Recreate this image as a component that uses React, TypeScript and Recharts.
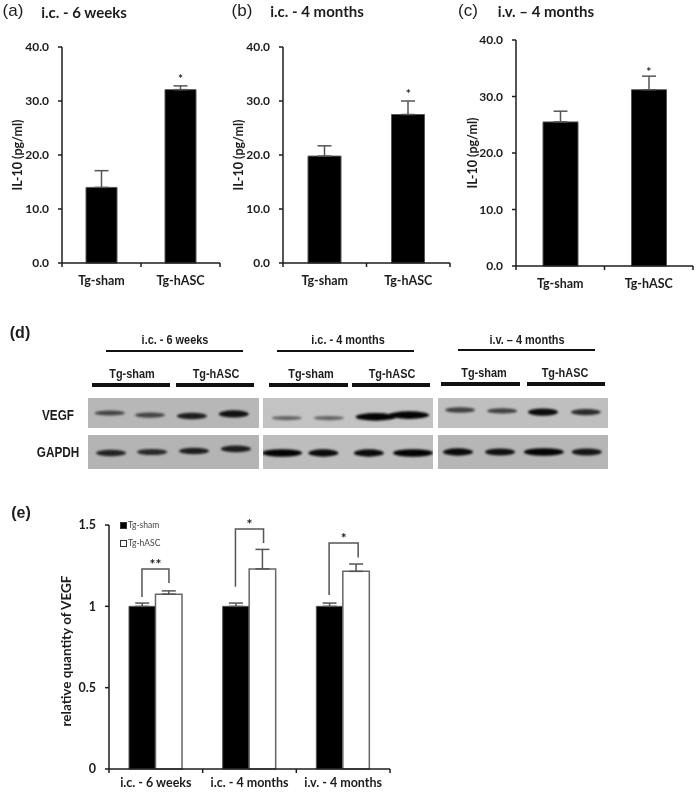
import { BarChart, Bar, XAxis, YAxis, ErrorBar, ReferenceDot, LineChart, Line, Legend, ScatterChart, Scatter } from 'recharts';

const FONT = 'Lato, "Open Sans", sans-serif';
const NARROW = '"Liberation Sans", sans-serif';
const INK = '#1c1c1c';

// IL-10 panels
const groups = ['Tg-sham', 'Tg-hASC'];
const il10Six = [14.0, 32.1];
const il10SixErr = [3.1, 0.7];
const il10Four = [19.8, 27.5];
const il10FourErr = [1.9, 2.5];
const il10Iv = [25.5, 31.2];
const il10IvErr = [1.9, 2.4];
const il10Ticks = [0, 10, 20, 30, 40];

// VEGF quantity panel
const timepoints = ['i.c. - 6 weeks', 'i.c. - 4 months', 'i.v. - 4 months'];
const vegfSham = [1, 1, 1];
const vegfShamErr = [0.02, 0.02, 0.02];
const vegfAsc = [1.075, 1.23, 1.215];
const vegfAscErr = [0.02, 0.12, 0.045];
const vegfTicks = [0, 0.5, 1, 1.5];
const bracketPoints = [
  [[0.352, 1.057], [0.352, 1.23], [0.64, 1.23], [0.64, 1.143]],
  [[1.35, 1.12], [1.35, 1.475], [1.65, 1.475], [1.65, 1.39]],
  [[2.35, 1.07], [2.35, 1.39], [2.66, 1.39], [2.66, 1.3]],
];
const bracketStars = ['**', '*', '*'];

// western blot: per gel, lane position, band strength, migration (share of strip height)
const vegfLanes = [[0.51, 1.45, 2.43, 3.41], [0.56, 1.55, 2.65, 3.44], [0.52, 1.51, 2.47, 3.48]];
const vegfStrength = [[0.5, 0.5, 0.8, 0.9], [0.3, 0.3, 1, 1], [0.55, 0.55, 0.95, 0.7]];
const vegfMigration = [[0.5, 0.57, 0.6, 0.53], [0.67, 0.67, 0.63, 0.57], [0.4, 0.43, 0.47, 0.47]];
const gapdhLanes = [[0.54, 1.5, 2.48, 3.46], [0.45, 1.42, 2.49, 3.53], [0.47, 1.46, 2.49, 3.5]];
const gapdhStrength = [[0.75, 0.7, 0.8, 0.8], [1, 0.95, 0.95, 1], [0.95, 0.9, 1, 0.85]];
const gapdhMigration = [[0.53, 0.5, 0.47, 0.41], [0.53, 0.53, 0.53, 0.53], [0.5, 0.5, 0.5, 0.5]];

const AXIS_W = 60;
const TOP = 12;
const BOTTOM = 30;

const label = (x: number, y: number, text: string, style: any = {}) => (
  <div
    style={{
      position: 'absolute',
      left: x,
      top: y,
      transform: 'translate(-50%, -50%)',
      whiteSpace: 'nowrap',
      fontFamily: FONT,
      fontWeight: 700,
      color: INK,
      ...style,
    }}
  >
    {text}
  </div>
);

const narrow = (size: number) => ({
  fontFamily: NARROW,
  fontSize: size,
  transform: 'translate(-50%, -50%) scaleX(0.84)',
});

const rule = (x1: number, x2: number, y: number, h: number) => (
  <div style={{ position: 'absolute', left: x1, top: y - h / 2, width: x2 - x1, height: h, background: '#111' }} />
);

// x axis ticks sit on the category boundaries, not under the labels
const BoundaryTick = (props: any) => {
  const { x, payload, step, index, labelY, axisY } = props;
  return (
    <g>
      {index === 0 && <line x1={x - step / 2} x2={x - step / 2} y1={axisY} y2={axisY + 4} stroke={INK} strokeWidth={1.5} />}
      <line x1={x + step / 2} x2={x + step / 2} y1={axisY} y2={axisY + 4} stroke={INK} strokeWidth={1.5} />
      <text x={x} y={axisY + labelY} textAnchor="middle" fontFamily={FONT} fontWeight={700} fontSize={12.5} fill={INK}>
        {payload.value}
      </text>
    </g>
  );
};

function Il10Panel({ left, top, plotW, plotH, values, errs, barSize, starY, yLabelDx }: any) {
  const data = groups.map((g, i) => ({ name: g, value: values[i], err: [0, errs[i]] }));
  return (
    <div style={{ position: 'absolute', left: left - AXIS_W, top: top - TOP }}>
      <BarChart
        width={plotW + AXIS_W + 6}
        height={plotH + TOP + BOTTOM}
        data={data}
        margin={{ top: TOP, right: 6, bottom: 0, left: 0 }}
        barSize={barSize}
      >
        <XAxis
          dataKey="name"
          height={BOTTOM}
          tickLine={false}
          axisLine={{ stroke: INK, strokeWidth: 1.5 }}
          interval={0}
          tick={<BoundaryTick step={plotW / 2} labelY={22} axisY={plotH + TOP} />}
        />
        <YAxis
          width={AXIS_W}
          domain={[0, 40]}
          ticks={il10Ticks}
          tickFormatter={(v: number) => v.toFixed(1)}
          tickSize={4}
          tickMargin={9}
          axisLine={{ stroke: INK, strokeWidth: 1.5 }}
          tickLine={{ stroke: INK, strokeWidth: 1.5 }}
          tick={{ fontFamily: FONT, fontWeight: 700, fontSize: 12, fill: INK }}
          label={{
            value: 'IL-10 (pg/ml)',
            angle: -90,
            position: 'insideLeft',
            dx: yLabelDx,
            style: { textAnchor: 'middle', fontFamily: FONT, fontWeight: 700, fontSize: 12.5, fill: INK },
          }}
        />
        <Bar dataKey="value" fill="#000" stroke="#555" strokeWidth={1} isAnimationActive={false}>
          <ErrorBar dataKey="err" direction="y" width={7} stroke="#555" strokeWidth={1.5} isAnimationActive={false} />
        </Bar>
        <ReferenceDot
          x={groups[1]}
          y={starY}
          r={0}
          ifOverflow="visible"
          label={{ value: '*', position: 'center', fontFamily: FONT, fontWeight: 700, fontSize: 12, fill: INK }}
        />
      </BarChart>
    </div>
  );
}

const BandShape = (props: any) => {
  const { cx, cy, payload } = props;
  const s = payload.strength;
  return (
    <ellipse
      cx={cx}
      cy={cy}
      rx={15 + 5 * (s > 0.97 ? 1 : 0)}
      ry={1.4 + 2.4 * s}
      fill="#000"
      fillOpacity={0.28 + 0.7 * s}
      style={{ filter: 'blur(1.1px)' }}
    />
  );
};

function Strip({ left, top, width, height, lanes, strength, migration, bg }: any) {
  const data = lanes.map((lane: number, i: number) => ({ lane, migration: migration[i], strength: strength[i] }));
  return (
    <div style={{ position: 'absolute', left, top, background: bg, width, height, overflow: 'hidden' }}>
      <ScatterChart width={width} height={height} margin={{ top: 0, right: 0, bottom: 0, left: 0 }}>
        <XAxis type="number" dataKey="lane" domain={[0, 4]} hide />
        <YAxis type="number" dataKey="migration" domain={[0, 1]} reversed hide width={0} />
        <Scatter data={data} shape={<BandShape />} isAnimationActive={false} />
      </ScatterChart>
    </div>
  );
}

const LegendBox = ({ payload }: any) => (
  <div>
    {(payload || []).map((p: any, i: number) => (
      <div key={p.value} style={{ display: 'flex', alignItems: 'center', height: 18, fontFamily: FONT, fontSize: 8.5, color: '#444' }}>
        <span
          style={{
            display: 'inline-block',
            width: 5,
            height: 5,
            marginRight: 1,
            background: i === 0 ? '#000' : '#fff',
            border: '1px solid #333',
          }}
        />
        {p.value}
      </div>
    ))}
  </div>
);

function VegfPanel() {
  const left = 109;
  const top = 525;
  const plotW = 281;
  const plotH = 244;
  const data = timepoints.map((t, i) => ({
    name: t,
    sham: vegfSham[i],
    shamErr: [0, vegfShamErr[i]],
    asc: vegfAsc[i],
    ascErr: [0, vegfAscErr[i]],
  }));
  return (
    <div style={{ position: 'absolute', left: left - AXIS_W, top: top - TOP }}>
      <BarChart
        width={plotW + AXIS_W + 6}
        height={plotH + TOP + BOTTOM}
        data={data}
        margin={{ top: TOP, right: 6, bottom: 0, left: 0 }}
        barSize={26.5}
        barGap={0}
      >
        <XAxis
          dataKey="name"
          height={BOTTOM}
          tickLine={false}
          axisLine={{ stroke: INK, strokeWidth: 1.5 }}
          interval={0}
          tick={<BoundaryTick step={plotW / 3} labelY={18} axisY={plotH + TOP} />}
        />
        <YAxis
          width={AXIS_W}
          domain={[0, 1.5]}
          ticks={vegfTicks}
          tickSize={4}
          tickMargin={9}
          axisLine={{ stroke: INK, strokeWidth: 1.5 }}
          tickLine={{ stroke: INK, strokeWidth: 1.5 }}
          tick={{ fontFamily: FONT, fontWeight: 700, fontSize: 12.5, fill: INK }}
          label={{
            value: 'relative quantity of VEGF',
            angle: -90,
            position: 'insideLeft',
            dx: 12,
            dy: 4,
            style: { textAnchor: 'middle', fontFamily: FONT, fontWeight: 700, fontSize: 13.5, fill: INK },
          }}
        />
        <Legend
          layout="vertical"
          align="center"
          verticalAlign="middle"
          itemSorter={null}
          content={<LegendBox />}
          wrapperStyle={{ left: 71, top: 3, width: 60 }}
        />
        <Bar dataKey="sham" name="Tg-sham" fill="#000" stroke="#555" strokeWidth={1} isAnimationActive={false}>
          <ErrorBar dataKey="shamErr" direction="y" width={7} stroke="#555" strokeWidth={1.5} isAnimationActive={false} />
        </Bar>
        <Bar dataKey="asc" name="Tg-hASC" fill="#fff" stroke="#666" strokeWidth={1.5} isAnimationActive={false}>
          <ErrorBar dataKey="ascErr" direction="y" width={7} stroke="#555" strokeWidth={1.5} isAnimationActive={false} />
        </Bar>
      </BarChart>
      {/* significance brackets on a numeric x scale over the same plot area */}
      <div style={{ position: 'absolute', left: 0, top: 0 }}>
        <LineChart
          width={plotW + AXIS_W + 6}
          height={plotH + TOP + BOTTOM}
          margin={{ top: TOP, right: 6, bottom: BOTTOM, left: AXIS_W }}
        >
          <XAxis type="number" dataKey="x" domain={[0, 3]} hide />
          <YAxis type="number" dataKey="y" domain={[0, 1.5]} hide />
          {bracketPoints.map((pts, i) => (
            <Line
              key={i}
              data={pts.map(([x, y]) => ({ x, y }))}
              dataKey="y"
              type="linear"
              stroke="#555"
              strokeWidth={1.5}
              dot={false}
              isAnimationActive={false}
            />
          ))}
          {bracketPoints.map((pts, i) => (
            <ReferenceDot
              key={i}
              x={(pts[1][0] + pts[2][0]) / 2}
              y={pts[1][1] + 0.03}
              r={0}
              ifOverflow="visible"
              label={{ value: bracketStars[i], position: 'center', fontFamily: FONT, fontWeight: 700, fontSize: 14, fill: INK }}
            />
          ))}
        </LineChart>
      </div>
    </div>
  );
}

export default function App() {
  const gels = [
    { left: 88, width: 171, bg: '#b7b7b7', bg2: '#b4b4b4' },
    { left: 263, width: 170, bg: '#c3c3c3', bg2: '#bdbdbd' },
    { left: 438, width: 170, bg: '#bfbfbf', bg2: '#b6b6b6' },
  ];
  return (
    <div style={{ position: 'absolute', left: 0, top: 0, width: 697, height: 793, background: '#fff', overflow: 'hidden', filter: 'blur(0.35px)' }}>
      {label(13, 11, '(a)', { fontFamily: '"Liberation Sans"', fontWeight: 400, fontSize: 17 })}
      {label(84, 12, 'i.c. - 6 weeks', { fontSize: 15 })}
      {label(242, 11, '(b)', { fontFamily: '"Liberation Sans"', fontWeight: 400, fontSize: 17 })}
      {label(317, 11, 'i.c. - 4 months', { fontSize: 15 })}
      {label(468, 11, '(c)', { fontFamily: '"Liberation Sans"', fontWeight: 400, fontSize: 17 })}
      {label(546, 11, 'i.v. – 4 months', { fontSize: 15 })}

      <Il10Panel left={62} top={47} plotW={158} plotH={216} values={il10Six} errs={il10SixErr} barSize={31} starY={34.2} yLabelDx={11} />
      <Il10Panel left={283} top={47} plotW={167} plotH={216} values={il10Four} errs={il10FourErr} barSize={33} starY={31.3} yLabelDx={11} />
      <Il10Panel left={516} top={40} plotW={177} plotH={226} values={il10Iv} errs={il10IvErr} barSize={35} starY={34.4} yLabelDx={12} />

      {label(20, 333, '(d)', { fontFamily: '"Liberation Sans"', fontSize: 16 })}
      {label(175, 339, 'i.c. - 6 weeks', narrow(13))}
      {label(348, 339, 'i.c. - 4 months', narrow(13))}
      {label(527, 339, 'i.v. – 4 months', narrow(13))}
      {rule(106, 243, 351, 2.5)}
      {rule(277, 414, 351, 2.5)}
      {rule(458, 595, 350, 2.5)}
      {label(132, 373, 'Tg-sham', narrow(13))}
      {label(215.5, 373, 'Tg-hASC', narrow(13))}
      {label(311, 373, 'Tg-sham', narrow(13))}
      {label(392, 373, 'Tg-hASC', narrow(13))}
      {label(483.5, 372, 'Tg-sham', narrow(13))}
      {label(565, 372, 'Tg-hASC', narrow(13))}
      {rule(91.5, 170, 385, 4)}
      {rule(175.5, 254, 385, 4)}
      {rule(268.5, 347.5, 385, 4)}
      {rule(352, 430, 385, 4)}
      {rule(441, 519.5, 384, 4)}
      {rule(527, 605, 384, 4)}
      {label(58, 415, 'VEGF', narrow(14))}
      {label(58, 452, 'GAPDH', narrow(14))}
      {gels.map((g, i) => (
        <div key={i}>
          <Strip left={g.left} top={398} width={g.width} height={30} lanes={vegfLanes[i]} strength={vegfStrength[i]} migration={vegfMigration[i]} bg={g.bg} />
          <Strip left={g.left} top={435} width={g.width} height={34} lanes={gapdhLanes[i]} strength={gapdhStrength[i]} migration={gapdhMigration[i]} bg={g.bg2} />
        </div>
      ))}

      {label(21, 513, '(e)', { fontFamily: '"Liberation Sans"', fontSize: 16 })}
      <VegfPanel />
    </div>
  );
}
